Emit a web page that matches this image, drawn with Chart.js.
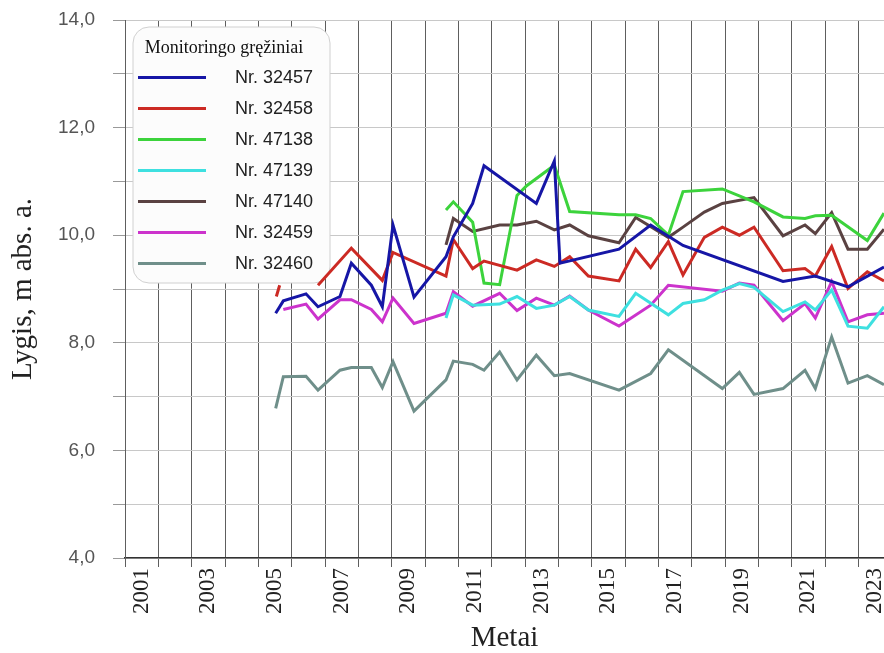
<!DOCTYPE html>
<html>
<head>
<meta charset="utf-8">
<script src="https://cdn.jsdelivr.net/npm/chart.js@4/dist/chart.umd.min.js"></script>
<style>
  body { margin: 0; background: #fff; }
</style>
</head>
<body>
<canvas id="chart-1" width="884" height="653"></canvas>
<script>
// -------------------------------------------------------------
// ---------------------- Duomenys -----------------------------
// -------------------------------------------------------------

// Nr. 32457
const years32457 = [2005.02, 2005.25, 2005.93, 2006.29, 2006.95, 2007.29, 2007.89, 2008.22, 2008.54, 2009.17, 2010.13, 2010.35, 2010.93, 2011.27, 2012.84, 2013.38, 2013.55, 2015.32, 2016.27, 2017.24, 2020.24, 2021.21, 2022.19, 2023.27];
const levels32457 = [8.55, 8.78, 8.91, 8.67, 8.86, 9.48, 9.07, 8.67, 10.19, 8.85, 9.6, 9.97, 10.59, 11.29, 10.59, 11.38, 9.48, 9.74, 10.19, 9.81, 9.14, 9.24, 9.04, 9.41];

// Nr. 32458 (tarpas tarp 2005 ir 2006)
const years32458 = [2005.04, 2005.14, 2005.7, 2006.29, 2007.29, 2008.22, 2008.54, 2010.13, 2010.35, 2010.93, 2011.27, 2012.26, 2012.84, 2013.38, 2013.84, 2014.4, 2015.32, 2015.82, 2016.27, 2016.8, 2017.24, 2017.88, 2018.42, 2018.93, 2019.37, 2020.24, 2020.9, 2021.21, 2021.7, 2022.19, 2022.77, 2023.27];
const levels32458 = [8.86, 9.07, null, 9.07, 9.76, 9.16, 9.68, 9.24, 9.92, 9.38, 9.52, 9.35, 9.54, 9.42, 9.6, 9.24, 9.15, 9.74, 9.4, 9.88, 9.26, 9.96, 10.15, 10.0, 10.15, 9.34, 9.38, 9.24, 9.79, 9.01, 9.32, 9.15];

// Nr. 47138
const years47138 = [2010.13, 2010.35, 2010.93, 2011.27, 2011.74, 2012.26, 2012.55, 2013.38, 2013.84, 2015.32, 2015.82, 2016.27, 2016.8, 2017.24, 2018.42, 2019.37, 2020.24, 2020.9, 2021.21, 2021.7, 2022.77, 2023.27];
const levels47138 = [10.47, 10.62, 10.24, 9.11, 9.08, 10.74, 10.92, 11.3, 10.44, 10.38, 10.38, 10.31, 10.0, 10.81, 10.86, 10.62, 10.34, 10.31, 10.36, 10.37, 9.9, 10.41];

// Nr. 47139
const years47139 = [2010.13, 2010.35, 2010.93, 2011.74, 2012.26, 2012.84, 2013.38, 2013.84, 2014.4, 2015.32, 2015.82, 2016.8, 2017.24, 2017.88, 2018.42, 2018.93, 2019.37, 2020.24, 2020.9, 2021.21, 2021.7, 2022.19, 2022.77, 2023.27];
const levels47139 = [8.46, 8.89, 8.7, 8.72, 8.86, 8.64, 8.7, 8.86, 8.61, 8.49, 8.92, 8.52, 8.73, 8.8, 8.98, 9.1, 9.03, 8.58, 8.76, 8.61, 8.98, 8.31, 8.27, 8.67];

// Nr. 47140
const years47140 = [2010.13, 2010.35, 2010.93, 2011.74, 2012.26, 2012.84, 2013.38, 2013.84, 2014.4, 2015.32, 2015.82, 2016.8, 2017.24, 2017.88, 2018.42, 2019.37, 2020.24, 2020.9, 2021.21, 2021.7, 2022.19, 2022.77, 2023.27];
const levels47140 = [9.82, 10.31, 10.07, 10.19, 10.19, 10.26, 10.1, 10.19, 9.99, 9.86, 10.33, 9.96, 10.15, 10.43, 10.59, 10.7, 9.99, 10.19, 10.03, 10.42, 9.74, 9.74, 10.11];

// Nr. 32459
const years32459 = [2005.25, 2005.93, 2006.29, 2006.95, 2007.29, 2007.89, 2008.22, 2008.54, 2009.17, 2010.13, 2010.35, 2010.93, 2011.74, 2012.26, 2012.84, 2013.38, 2013.84, 2014.4, 2015.32, 2016.27, 2016.8, 2018.42, 2018.93, 2019.37, 2020.24, 2020.9, 2021.21, 2021.7, 2022.19, 2022.77, 2023.27];
const levels32459 = [8.62, 8.72, 8.44, 8.8, 8.8, 8.62, 8.39, 8.83, 8.36, 8.55, 8.95, 8.68, 8.92, 8.6, 8.83, 8.7, 8.87, 8.61, 8.31, 8.7, 9.07, 8.96, 9.11, 9.07, 8.41, 8.73, 8.46, 9.14, 8.39, 8.52, 8.55];

// Nr. 32460
const years32460 = [2005.02, 2005.25, 2005.93, 2006.29, 2006.95, 2007.29, 2007.89, 2008.22, 2008.54, 2009.17, 2010.13, 2010.35, 2010.93, 2011.27, 2011.74, 2012.26, 2012.84, 2013.38, 2013.84, 2015.32, 2016.27, 2016.8, 2018.42, 2018.93, 2019.37, 2020.24, 2020.9, 2021.21, 2021.7, 2022.19, 2022.77, 2023.27];
const levels32460 = [6.78, 7.37, 7.38, 7.12, 7.49, 7.54, 7.54, 7.17, 7.65, 6.73, 7.31, 7.66, 7.6, 7.49, 7.83, 7.31, 7.77, 7.39, 7.43, 7.12, 7.43, 7.87, 7.15, 7.45, 7.04, 7.15, 7.49, 7.15, 8.11, 7.25, 7.39, 7.22];

// asiu ribos ir zymes
const yearMin = 2000.5;
const yearMax = 2023.27;
const yearLabels = [2001, 2003, 2005, 2007, 2009, 2011, 2013, 2015, 2017, 2019, 2021, 2023];
const levelMin = 4;
const levelMax = 14;
const levelLabels = [4, 6, 8, 10, 12, 14];


// -------------------------------------------------------------
// ---------------------- Pagalbines ---------------------------
// -------------------------------------------------------------

function toPoints(xs, ys) {
  return xs.map((x, i) => ({ x: x, y: ys[i] }));
}

function series(label, xs, ys, color) {
  return {
    label: label,
    data: toPoints(xs, ys),
    borderColor: color,
    backgroundColor: color,
    borderWidth: 3,
    pointRadius: 0,
    pointHoverRadius: 0,
    tension: 0,
    showLine: true,
    spanGaps: false
  };
}

// legenda grafiko viduje + apvalintas remelis virs tinklelio
const legendBox = {
  id: 'legendBox',
  afterLayout(chart) {
    const lg = chart.legend;
    const area = chart.chartArea;
    lg.top = area.top;
    lg.bottom = area.top + lg.height;
  },
  beforeDatasetsDraw(chart) {
    const lg = chart.legend;
    const area = chart.chartArea;
    const ctx = chart.ctx;
    ctx.save();
    ctx.beginPath();
    ctx.roundRect(area.left + 8, area.top + 7, 197, 256, 16);
    ctx.fillStyle = '#fcfcfc';
    ctx.fill();
    ctx.strokeStyle = '#d0d0d0';
    ctx.lineWidth = 1;
    ctx.stroke();
    ctx.restore();
    lg.draw();
  }
};


// -------------------------------------------------------------
// ---------------------- Grafikas -----------------------------
// -------------------------------------------------------------

const ctx = document.getElementById('chart-1');
new Chart(ctx, {
  type: 'scatter',
  data: {
    datasets: [
      series('Nr. 32457', years32457, levels32457, '#1616a6'),
      series('Nr. 32458', years32458, levels32458, '#cc2a24'),
      series('Nr. 47138', years47138, levels47138, '#3cd33c'),
      series('Nr. 47139', years47139, levels47139, '#3ee0e0'),
      series('Nr. 47140', years47140, levels47140, '#5a4242'),
      series('Nr. 32459', years32459, levels32459, '#cc33cc'),
      series('Nr. 32460', years32460, levels32460, '#6f8f8a')
    ]
  },
  plugins: [legendBox],
  options: {
    responsive: false,
    animation: false,
    devicePixelRatio: 1,
    layout: { padding: { top: 20, right: 0, bottom: 0, left: 0 } },
    plugins: {
      tooltip: { enabled: false },
      legend: {
        position: 'chartArea',
        align: 'start',
        title: {
          display: true,
          text: 'Monitoringo gręžiniai',
          position: 'center',
          color: '#111',
          font: { family: 'Liberation Serif', size: 18 },
          padding: { top: 19, bottom: -5 }
        },
        labels: {
          usePointStyle: true,
          pointStyle: 'line',
          pointStyleWidth: 68,
          padding: 13,
          textAlign: 'left',
          color: '#222',
          font: { family: 'Liberation Sans', size: 18 },
          generateLabels(chart) {
            const items = Chart.defaults.plugins.legend.labels.generateLabels(chart);
            items.forEach(it => { it.text = '    ' + it.text; });
            return items;
          }
        }
      }
    },
    scales: {
      x: {
        type: 'linear',
        min: yearMin,
        max: yearMax,
        afterBuildTicks(scale) {
          const ticks = [];
          for (let v = yearMin; v <= yearMax; v += 0.5) ticks.push({ value: v });
          scale.ticks = ticks;
        },
        afterFit(scale) {
          scale.height = 95;
          scale.paddingLeft = 0;
          scale.paddingRight = 0;
        },
        grid: {
          color: c => (c.tick && c.tick.value % 1 !== 0) ? '#5e5e5e' : 'rgba(0,0,0,0)',
          tickLength: 9,
          lineWidth: 1
        },
        border: { color: '#333', width: 1.5 },
        ticks: {
          autoSkip: false,
          minRotation: 90,
          maxRotation: 90,
          padding: 1,
          color: '#222',
          font: { family: 'Liberation Serif', size: 23 },
          callback: v => yearLabels.includes(v) ? String(v) : ''
        },
        title: {
          display: true,
          text: 'Metai',
          color: '#222',
          font: { family: 'Liberation Serif', size: 29 },
          padding: { top: 0, bottom: -3 }
        }
      },
      y: {
        min: levelMin,
        max: levelMax,
        afterFit(scale) {
          scale.width = 125;
          scale.paddingTop = 0;
          scale.paddingBottom = 0;
        },
        grid: {
          color: '#c8c8c8',
          tickColor: '#999',
          tickLength: 12,
          lineWidth: 1
        },
        border: { color: '#5e5e5e', width: 1 },
        ticks: {
          stepSize: 1,
          padding: 18,
          color: '#555',
          font: { family: 'Liberation Sans', size: 19 },
          callback: v => levelLabels.includes(v) ? v.toFixed(1).replace('.', ',') : ''
        },
        title: {
          display: true,
          text: 'Lygis, m abs. a.',
          color: '#222',
          font: { family: 'Liberation Serif', size: 29 },
          padding: { top: 6, bottom: 0 }
        }
      }
    }
  }
});
</script>
</body>
</html>
